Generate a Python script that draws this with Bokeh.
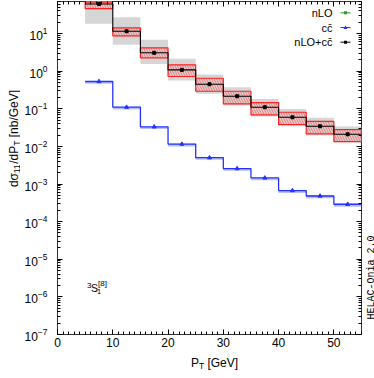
import math
from bokeh.plotting import figure
from bokeh.layouts import row, column
from bokeh.models import (Range1d, LinearAxis, LogAxis, Label, Arrow, BoxAnnotation,
                          PolyAnnotation, FixedTicker, SingleIntervalTicker, ColumnDataSource)
from bokeh.embed import file_html
from bokeh.resources import INLINE

# ---------------- data ----------------
bin_lo = [5, 10, 15, 20, 25, 30, 35, 40, 45, 50]
bin_hi = [10, 15, 20, 25, 30, 35, 40, 45, 50, 55]
# nLO + cc~ central values and bands
nlo_cc = [61.0, 11.5, 3.07, 1.08, 0.449, 0.215, 0.110, 0.0594, 0.0343, 0.0210]
scale_hi = [68.0, 14.2, 4.17, 1.47, 0.647, 0.292, 0.146, 0.0807, 0.0465, 0.0280]
scale_lo = [46.0, 8.7, 2.26, 0.72, 0.292, 0.135, 0.0689, 0.0380, 0.0215, 0.0134]
ldme_hi = [150.0, 27.2, 6.8, 2.12, 0.81, 0.373, 0.183, 0.0993, 0.0573, 0.0336]
ldme_lo = [18.1, 5.0, 1.56, 0.56, 0.249, 0.122, 0.062, 0.0357, 0.0194, 0.0128]
# cc~ contribution
cc = [0.53, 0.11, 0.033, 0.0115, 0.0050, 0.00257, 0.00145, 0.00067, 0.00048, 0.00029]
cc_lo = [0.46, 0.096, 0.029, 0.0100, 0.0044, 0.00224, 0.00126, 0.00058, 0.00042, 0.00025]
cc_hi = [0.55, 0.114, 0.034, 0.0119, 0.0052, 0.00266, 0.00150, 0.00069, 0.00050, 0.00030]

y_exponents = [-7, -6, -5, -4, -3, -2, -1, 0, 1]
legend_labels = ["nLO", "cc\u0304", "nLO+cc\u0304"]
legend_colors = ["#2a9a2a", "#2233ff", "#000000"]
legend_markers = ["square", "triangle", "square"]

FONT = "Liberation Sans"
# strips around the main plot (page layout)
YL_W = 20        # left strip holding the y-axis title
HR_W = 12        # right strip holding the HELAC stamp
XL_H = 27        # bottom strip holding the x-axis title
W, H = 374 - YL_W - HR_W, 378 - XL_H
ML, MR, MT, MB = 37, 1, 1, 17
FW, FH = W - ML - MR, H - MT - MB

p = figure(width=W, height=H, y_axis_type="log",
           x_range=Range1d(0, 55), y_range=Range1d(1e-7, 71),
           output_backend="svg", toolbar_location=None, title=None,
           min_border_left=ML, min_border_right=MR, min_border_top=MT, min_border_bottom=MB)
p.grid.visible = False
p.outline_line_color = "#333333"
p.outline_line_width = 1
p.background_fill_color = "white"
p.border_fill_color = "white"

y_major = [10.0 ** e for e in y_exponents]
y_minor = [m * 10.0 ** e for e in y_exponents for m in range(2, 10)]


def style_axis(ax, labels=True):
    ax.axis_line_color = None
    ax.major_tick_line_color = "black"
    ax.minor_tick_line_color = "black"
    ax.major_tick_in = 5
    ax.major_tick_out = 0
    ax.minor_tick_in = 3
    ax.minor_tick_out = 0
    ax.major_label_text_font = FONT
    if labels:
        ax.major_label_text_font_size = "12px"
        ax.major_label_text_color = "black"
    else:
        ax.major_label_text_font_size = "1px"
        ax.major_label_text_color = None
        ax.major_label_standoff = 0


p.xaxis.ticker = SingleIntervalTicker(interval=10, num_minor_ticks=10)
p.yaxis.ticker = FixedTicker(ticks=y_major, minor_ticks=y_minor)
style_axis(p.xaxis[0])
style_axis(p.yaxis[0])
p.xaxis.major_label_standoff = 3
p.yaxis.major_label_standoff = 10

top = LinearAxis(ticker=SingleIntervalTicker(interval=10, num_minor_ticks=10))
style_axis(top, labels=False)
p.add_layout(top, "above")
right = LogAxis(ticker=FixedTicker(ticks=y_major, minor_ticks=y_minor))
style_axis(right, labels=False)
p.add_layout(right, "right")

src = ColumnDataSource(dict(
    lo=bin_lo, hi=bin_hi, mid=[(a + b) / 2 for a, b in zip(bin_lo, bin_hi)],
    c=nlo_cc, shi=scale_hi, slo=scale_lo, lhi=ldme_hi, llo=ldme_lo,
    cc=cc, cclo=cc_lo, cchi=cc_hi))

# gray (LDME) band
p.quad(left="lo", right="hi", bottom="llo", top="lhi", source=src,
       fill_color="#d6d6d6", line_color=None)
# red hatched scale band
p.quad(left="lo", right="hi", bottom="slo", top="shi", source=src,
       fill_color=None, line_color="#ff2020", line_width=1.2,
       hatch_pattern="\\", hatch_color="#ff5a5a", hatch_scale=5, hatch_weight=0.8)
# black step + markers
p.step(bin_lo + [bin_hi[-1]], nlo_cc + [nlo_cc[-1]], mode="after",
       line_color="black", line_width=1.1)
p.scatter("mid", "c", source=src, marker="square", size=3, color="black")

# blue cc~ band, step, markers
p.quad(left="lo", right="hi", bottom="cclo", top="cchi", source=src,
       fill_color="#a8b0ff", fill_alpha=0.8, line_color=None)
p.step(bin_lo + [bin_hi[-1]], cc + [cc[-1]], mode="after",
       line_color="#2233ff", line_width=1.3)
p.scatter("mid", "cc", source=src, marker="triangle", size=4, color="#2233ff")

# ---------------- text helpers ----------------
CW = {"d": .556, "σ": .6, "/": .278, "P": .667, "T": .611, "1": .556, "[": .278,
      "]": .278, "n": .556, "b": .556, "G": .778, "e": .556, "V": .667, " ": .278}


def tw(s, size):
    return sum(CW.get(ch, .556) for ch in s) * size


def lab(fig, text, x, y, size, angle=0.0, align="left", baseline="alphabetic",
        font=FONT, color="black"):
    fig.add_layout(Label(x=x, y=y, x_units="screen", y_units="screen", text=text,
                         text_font=font, text_font_size=f"{size}px", text_color=color,
                         text_align=align, text_baseline=baseline, angle=angle))


def strip(w, h):
    f = figure(width=w, height=h, x_range=Range1d(0, 1), y_range=Range1d(0, 1),
               x_axis_location=None, y_axis_location=None, title=None,
               output_backend="svg", toolbar_location=None,
               min_border_left=0, min_border_right=0, min_border_top=0, min_border_bottom=0)
    f.grid.visible = False
    f.outline_line_color = None
    f.background_fill_color = "white"
    f.border_fill_color = "white"
    return f


# y-axis title strip (rotated, composed with subscripts)
fy = strip(YL_W, H)
ypieces = [("dσ", 12, 0), ("11", 8.5, 3), ("/dP", 12, 0), ("T", 8.5, 3), ("[nb/GeV]", 12, 0)]
gaps = [0, 0, 0, 0, 3.3]
total = sum(tw(s, f) for s, f, _ in ypieces) + sum(gaps)
ypos = (H - 155) - total / 2
for (s, f, dx), g in zip(ypieces, gaps):
    ypos += g
    lab(fy, s, 13 + dx, ypos, f, angle=math.pi / 2)
    ypos += tw(s, f)

# right strip: HELAC-Onia stamp
fr = strip(HR_W, H)
lab(fr, "HELAC-Onia 2.0", HR_W - 3.3, H - 336, 10, angle=math.pi / 2, font="Liberation Mono")

# x-axis title strip
fx = strip(374, XL_H)
xpieces = [("P", 12, 0), ("T", 8.5, -3), ("[GeV]", 12, 0)]
xgaps = [0, 0, 3.3]
total = sum(tw(s, f) for s, f, _ in xpieces) + sum(xgaps)
xpos = 214 - total / 2
for (s, f, dy), g in zip(xpieces, xgaps):
    xpos += g
    lab(fx, s, xpos, (378 - 362) + dy, f)
    xpos += tw(s, f)

# state label 3S1[8] inside the frame
lab(p, "3", 29.5, 49.5, 8)
lab(p, "S", 33.5, 46.3, 10.5)
lab(p, "1", 39.5, 43.3, 7.5)
lab(p, "[8]", 40.5, 51, 8)

# legend
leg_y = [FH - 11.3, FH - 26.0, FH - 40.7]
for t, c, m, yy in zip(legend_labels, legend_colors, legend_markers, leg_y):
    lab(p, t, 275, yy, 11, align="right", baseline="middle")
    p.add_layout(Arrow(end=None, x_start=283, x_end=293, y_start=yy, y_end=yy,
                       start_units="screen", end_units="screen",
                       line_color=c, line_width=1))
    if m == "square":
        p.add_layout(BoxAnnotation(left=286.5, right=289.5, bottom=yy - 1.5, top=yy + 1.5,
                                   left_units="screen", right_units="screen",
                                   bottom_units="screen", top_units="screen",
                                   fill_color=c, fill_alpha=1, line_color=None))
    else:
        p.add_layout(PolyAnnotation(xs=[286, 290, 288], ys=[yy - 1.5, yy - 1.5, yy + 2],
                                    xs_units="screen", ys_units="screen",
                                    fill_color=c, fill_alpha=1, line_color=None))

page = column(row(fy, p, fr, spacing=0), fx, spacing=0)
open("out.html", "w").write(file_html(page, INLINE))
